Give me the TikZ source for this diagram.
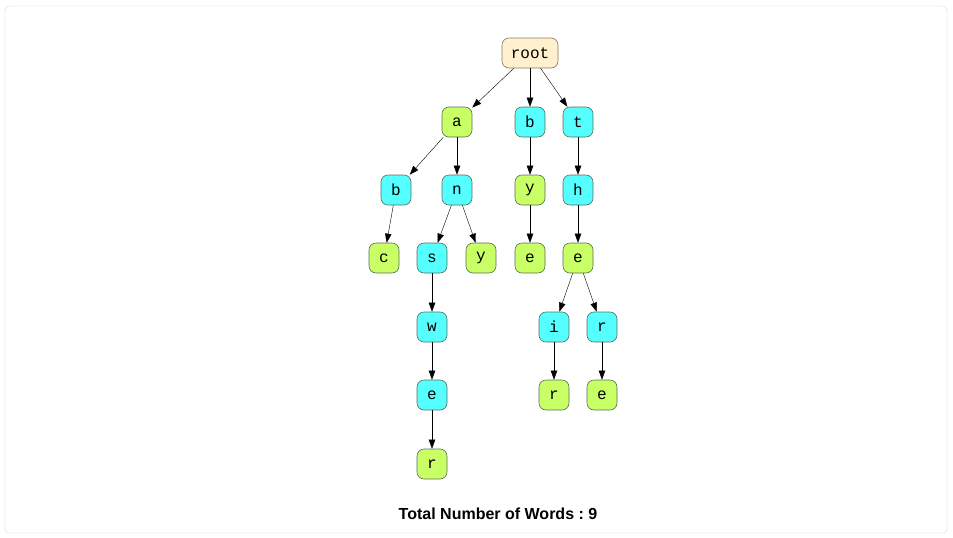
\documentclass[tikz,border=0pt]{standalone}
\usepackage{fontspec}
\setmainfont{Liberation Sans}
\setmonofont{Liberation Mono}
\usetikzlibrary{arrows.meta}
\definecolor{rootfill}{RGB}{255,240,206}
\definecolor{rootline}{RGB}{140,120,90}
\definecolor{triecyan}{RGB}{85,255,255}
\definecolor{triegreen}{RGB}{200,255,100}
\definecolor{nodeline}{RGB}{90,110,90}
\definecolor{framegray}{RGB}{210,210,210}
\frenchspacing

\begin{document}
\begin{tikzpicture}[x=1pt, y=-1pt,
    every node/.style={draw=nodeline, line width=0.6pt, rounded corners=7pt, minimum width=30pt, minimum height=30pt, inner sep=0pt, font=\ttfamily\fontsize{16}{16}\selectfont},
    rootbox/.style={fill=rootfill, draw=rootline, minimum width=56pt},
    cyanbox/.style={fill=triecyan},
    greenbox/.style={fill=triegreen},
    >={Triangle[length=9pt,width=6.5pt]}]
        \useasboundingbox (0,0) rectangle (953,538);
        \draw[framegray, rounded corners=4pt] (5,6) rectangle (947,533);
        \node[rootbox] (root) at (530,53) {root};
        \node[greenbox] (a) at (457,122) {a};
        \node[cyanbox] (b) at (530,122) {b};
        \node[cyanbox] (t) at (578,122) {t};
        \node[cyanbox] (ab) at (396,190) {b};
        \node[cyanbox] (an) at (457,190) {n};
        \node[greenbox] (by) at (530,190) {y};
        \node[cyanbox] (th) at (578,190) {h};
        \node[greenbox] (abc) at (384,258) {c};
        \node[cyanbox] (ans) at (432,258) {s};
        \node[greenbox] (any) at (481,258) {y};
        \node[greenbox] (bye) at (530,258) {e};
        \node[greenbox] (the) at (578,258) {e};
        \node[cyanbox] (answ) at (432,327) {w};
        \node[cyanbox] (thei) at (554,327) {i};
        \node[cyanbox] (ther) at (602,327) {r};
        \node[cyanbox] (answe) at (432,395) {e};
        \node[greenbox] (their) at (554,395) {r};
        \node[greenbox] (there) at (602,395) {e};
        \node[greenbox] (answer) at (432,464) {r};
        \node[draw=none, rounded corners=0pt, font=\bfseries\fontsize{16}{16}\selectfont] (total) at (498,514) {Total Number of Words : 9};
        \draw[->] (root) -- (a);
        \draw[->] (root) -- (b);
        \draw[->] (root) -- (t);
        \draw[->] (a) -- (ab);
        \draw[->] (a) -- (an);
        \draw[->] (b) -- (by);
        \draw[->] (t) -- (th);
        \draw[->] (ab) -- (abc);
        \draw[->] (an) -- (ans);
        \draw[->] (an) -- (any);
        \draw[->] (by) -- (bye);
        \draw[->] (th) -- (the);
        \draw[->] (ans) -- (answ);
        \draw[->] (the) -- (thei);
        \draw[->] (the) -- (ther);
        \draw[->] (answ) -- (answe);
        \draw[->] (thei) -- (their);
        \draw[->] (ther) -- (there);
        \draw[->] (answe) -- (answer);
    \end{tikzpicture}
\end{document}
